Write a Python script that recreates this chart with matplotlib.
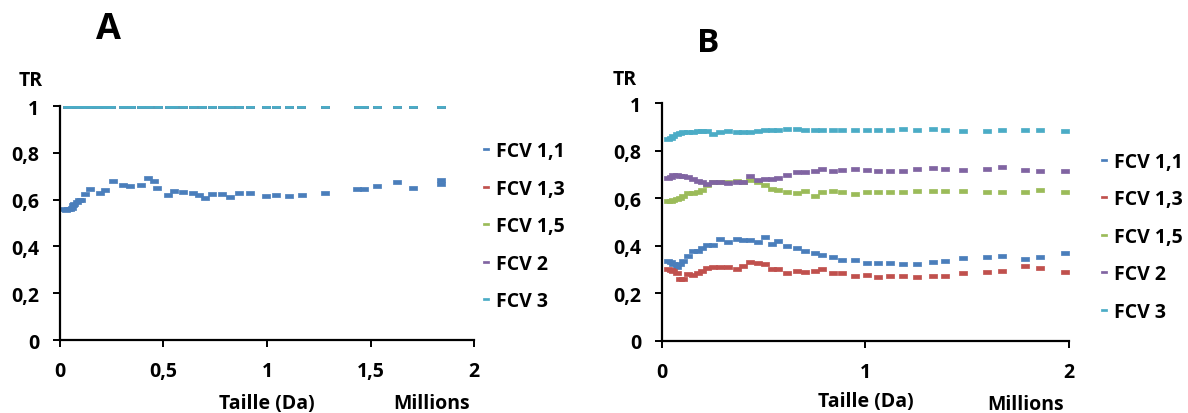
import matplotlib
matplotlib.use("Agg")
import matplotlib.pyplot as plt
from matplotlib.path import Path

plt.rcParams["font.family"] = ["Open Sans", "DejaVu Sans"]
plt.rcParams["font.weight"] = "bold"

# ---- data (sizes in millions of Da, TR values) ----
labels = ["FCV 1,1", "FCV 1,3", "FCV 1,5", "FCV 2", "FCV 3"]
colors = ["#4A7EBB", "#C0504D", "#9BBB59", "#8064A2", "#4BACC6"]

# Panel A
a_x11 = [0.02, 0.03, 0.04, 0.05, 0.06, 0.065, 0.07, 0.08, 0.09, 0.10, 0.121, 0.145,
         0.193, 0.217, 0.254, 0.306, 0.338, 0.39, 0.427, 0.454, 0.47, 0.523, 0.552,
         0.593, 0.641, 0.671, 0.70, 0.733, 0.781, 0.821, 0.866, 0.92, 0.994, 1.042,
         1.108, 1.167, 1.28, 1.433, 1.469, 1.533, 1.626, 1.707, 1.839, 1.839]
a_fcv11 = [0.56, 0.555, 0.558, 0.56, 0.565, 0.575, 0.58, 0.59, 0.598, 0.60, 0.624, 0.645,
           0.627, 0.641, 0.681, 0.662, 0.66, 0.663, 0.691, 0.681, 0.651, 0.62, 0.637,
           0.634, 0.628, 0.62, 0.608, 0.623, 0.623, 0.613, 0.63, 0.627, 0.614, 0.62,
           0.617, 0.62, 0.63, 0.644, 0.644, 0.657, 0.674, 0.651, 0.683, 0.667]
a_x3 = [0.035, 0.068, 0.10, 0.132, 0.164, 0.196, 0.229, 0.246, 0.304, 0.343, 0.393,
        0.432, 0.472, 0.527, 0.549, 0.593, 0.644, 0.684, 0.733, 0.781, 0.821, 0.866,
        0.92, 0.995, 1.043, 1.108, 1.166, 1.28, 1.44, 1.467, 1.533, 1.626, 1.707, 1.839]
a_fcv3 = [1.0] * len(a_x3)  # FCV 1,3 / 1,5 / 2 also sit at 1 under FCV 3

# Panel B (shared sizes)
b_x = [0.031, 0.043, 0.056, 0.072, 0.088, 0.105, 0.129, 0.154, 0.178, 0.195, 0.219,
       0.252, 0.285, 0.326, 0.367, 0.40, 0.432, 0.473, 0.506, 0.539, 0.572, 0.613,
       0.662, 0.703, 0.752, 0.785, 0.842, 0.883, 0.948, 1.006, 1.063, 1.12, 1.186,
       1.251, 1.333, 1.391, 1.481, 1.595, 1.669, 1.784, 1.857, 1.98]
b_fcv11 = [0.337, 0.33, 0.323, 0.309, 0.323, 0.337, 0.358, 0.376, 0.376, 0.389, 0.403,
           0.403, 0.428, 0.414, 0.428, 0.424, 0.424, 0.417, 0.435, 0.407, 0.421, 0.397,
           0.389, 0.376, 0.369, 0.362, 0.351, 0.341, 0.341, 0.327, 0.327, 0.327, 0.323,
           0.323, 0.333, 0.337, 0.347, 0.351, 0.357, 0.344, 0.354, 0.371]
b_fcv13 = [0.302, 0.298, 0.295, 0.285, 0.262, 0.262, 0.28, 0.278, 0.285, 0.295, 0.305,
           0.309, 0.309, 0.309, 0.302, 0.316, 0.33, 0.327, 0.323, 0.30, 0.30, 0.285,
           0.295, 0.288, 0.295, 0.30, 0.284, 0.284, 0.274, 0.278, 0.267, 0.274, 0.274,
           0.267, 0.271, 0.274, 0.284, 0.288, 0.294, 0.316, 0.308, 0.29]
b_fcv15 = [0.59, 0.59, 0.592, 0.597, 0.60, 0.611, 0.622, 0.622, 0.625, 0.634, 0.655,
           0.669, 0.669, 0.669, 0.672, 0.669, 0.678, 0.669, 0.657, 0.639, 0.634, 0.627,
           0.622, 0.631, 0.611, 0.625, 0.631, 0.625, 0.618, 0.625, 0.627, 0.625, 0.628,
           0.631, 0.631, 0.631, 0.631, 0.625, 0.627, 0.627, 0.634, 0.627]
b_fcv2 = [0.684, 0.69, 0.70, 0.70, 0.695, 0.695, 0.688, 0.68, 0.674, 0.667, 0.66,
          0.667, 0.667, 0.663, 0.67, 0.67, 0.692, 0.678, 0.681, 0.681, 0.684, 0.698,
          0.709, 0.712, 0.716, 0.723, 0.716, 0.72, 0.723, 0.72, 0.716, 0.713, 0.716,
          0.723, 0.727, 0.723, 0.72, 0.723, 0.73, 0.72, 0.716, 0.716]
b_fcv3 = [0.85, 0.855, 0.864, 0.871, 0.875, 0.878, 0.88, 0.88, 0.882, 0.882, 0.882,
          0.872, 0.88, 0.882, 0.88, 0.88, 0.88, 0.884, 0.886, 0.886, 0.888, 0.89,
          0.89, 0.887, 0.887, 0.887, 0.889, 0.887, 0.887, 0.887, 0.887, 0.887, 0.89,
          0.887, 0.89, 0.887, 0.883, 0.883, 0.887, 0.887, 0.887, 0.883]

y_ticks = [0, 0.2, 0.4, 0.6, 0.8, 1]
y_ticklabels = ["0", "0,2", "0,4", "0,6", "0,8", "1"]

# Excel-like "dash" marker
dash = Path([(-1, -0.45), (1, -0.45), (1, 0.45), (-1, 0.45), (-1, -0.45)],
            [Path.MOVETO, Path.LINETO, Path.LINETO, Path.LINETO, Path.CLOSEPOLY])

fig = plt.figure(figsize=(11.88, 4.14), dpi=100)
ax_a = fig.add_axes([0.0505, 0.1763, 0.3485, 0.5652])
ax_b = fig.add_axes([0.5572, 0.1746, 0.3426, 0.5734])


def style_axes(ax, xticks, xticklabels):
    for side in ["top", "right"]:
        ax.spines[side].set_visible(False)
    for side in ["left", "bottom"]:
        ax.spines[side].set_linewidth(1.6)
    ax.set_xlim(0, 2)
    ax.set_ylim(0, 1)
    ax.set_yticks(y_ticks)
    ax.set_yticklabels(y_ticklabels)
    ax.set_xticks(xticks)
    ax.set_xticklabels(xticklabels)
    ax.tick_params(axis="both", direction="out", length=5, width=1.4, labelsize=14)
    ax.tick_params(axis="y", pad=10)
    ax.tick_params(axis="x", pad=10)
    for lab in ax.get_xticklabels() + ax.get_yticklabels():
        lab.set_fontweight("bold")


def draw(ax, x, y, color, label):
    return ax.plot(x, y, linestyle="none", marker=dash, markersize=6.0,
                   color=color, markeredgewidth=0.5, label=label)[0]


# Panel A
handles_a = [draw(ax_a, a_x11, a_fcv11, colors[0], labels[0])]
for i in range(1, 5):
    handles_a.append(draw(ax_a, a_x3, a_fcv3, colors[i], labels[i]))
style_axes(ax_a, [0, 0.5, 1, 1.5, 2], ["0", "0,5", "1", "1,5", "2"])

# Panel B
b_series = [b_fcv11, b_fcv13, b_fcv15, b_fcv2, b_fcv3]
handles_b = [draw(ax_b, b_x, ys, c, l) for ys, c, l in zip(b_series, colors, labels)]
style_axes(ax_b, [0, 1, 2], ["0", "1", "2"])

for handles, xpos, ypos in [(handles_a, 0.406, 0.451), (handles_b, 0.926, 0.426)]:
    fig.legend(handles=handles, loc="center left", bbox_to_anchor=(xpos, ypos),
               frameon=False, handlelength=0.42, handletextpad=0.3,
               labelspacing=0.9, markerscale=0.75, borderpad=0, borderaxespad=0,
               prop={"weight": "bold", "size": 14})

# panel letters, axis captions
fig.text(108.5 / 1188, 1 - 30 / 414, "A", fontsize=26, fontweight="bold", ha="center", va="center")
fig.text(708.5 / 1188, 1 - 43 / 414, "B", fontsize=24, fontweight="bold", ha="center", va="center")
fig.text(31 / 1188, 1 - 81 / 414, "TR", fontsize=14, fontweight="bold", ha="center", va="center")
fig.text(625 / 1188, 1 - 80 / 414, "TR", fontsize=14, fontweight="bold", ha="center", va="center")
fig.text(267 / 1188, 1 - 404 / 414, "Taille (Da)", fontsize=14, fontweight="bold", ha="center", va="center")
fig.text(432 / 1188, 1 - 404 / 414, "Millions", fontsize=14, fontweight="bold", ha="center", va="center")
fig.text(866 / 1188, 1 - 402 / 414, "Taille (Da)", fontsize=14, fontweight="bold", ha="center", va="center")
fig.text(1026 / 1188, 1 - 405 / 414, "Millions", fontsize=14, fontweight="bold", ha="center", va="center")

fig.savefig("out.png", dpi=100)
